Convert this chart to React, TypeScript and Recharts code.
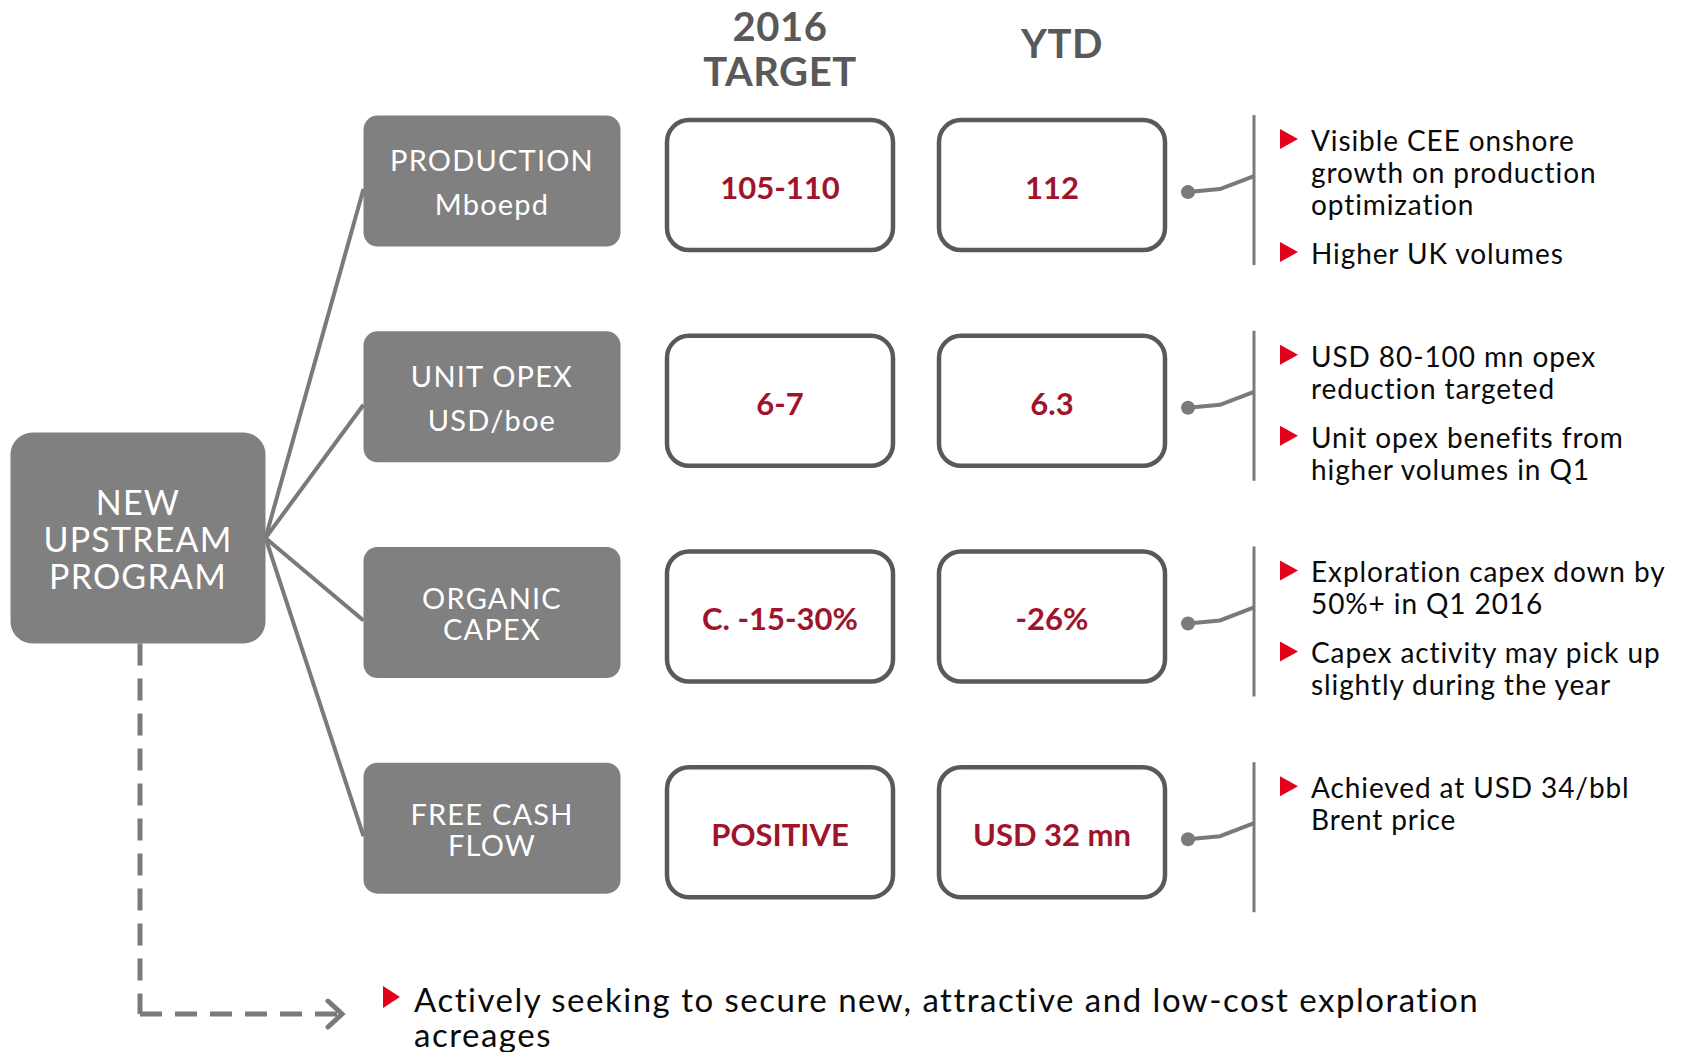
import React from 'react';
import { ScatterChart, Scatter, XAxis, YAxis, ReferenceLine } from 'recharts';

// diagram content
const programTitle = ['NEW', 'UPSTREAM', 'PROGRAM'];
const targetHeader = ['2016', 'TARGET'];
const ytdHeader = ['YTD'];
const categoryNames = ['PRODUCTION', 'UNIT OPEX', 'ORGANIC\nCAPEX', 'FREE CASH\nFLOW'];
const categoryUnits = ['Mboepd', 'USD/boe', '', ''];
const targets = ['105-110', '6-7', 'C. -15-30%', 'POSITIVE'];
const ytdValues = ['112', '6.3', '-26%', 'USD 32 mn'];
const comments = [
  [['Visible CEE onshore', 'growth on production', 'optimization'], ['Higher UK volumes']],
  [['USD 80-100 mn opex', 'reduction targeted'], ['Unit opex benefits from', 'higher volumes in Q1']],
  [['Exploration capex down by', '50%+ in Q1 2016'], ['Capex activity may pick up', 'slightly during the year']],
  [['Achieved at USD 34/bbl', 'Brent price']],
];
const bottomNote = ['Actively seeking to secure new, attractive and low-cost exploration', 'acreages'];

// layout
const W = 1683;
const H = 1052;
const Y_MIN = -0.858;
const Y_MAX = 4.019;
const ROW_PX = H / (Y_MAX - Y_MIN);

const PROGRAM_X = 138;
const PROGRAM_ROW = 1.636;
const PROGRAM_W = 255;
const PROGRAM_H = 211;
const CAT_X = 492;
const CAT_W = 257;
const CAT_H = 131;
const CAT_SHIFT = -4; // gray boxes sit slightly above the value boxes
const TARGET_X = 780;
const YTD_X = 1052;
const VAL_W = 226;
const VAL_H = 130;
const NOTE_X = 1254;
const HEADER_ROW = -0.659;
const BOTTOM_ROW = 3.843;
const DASH_X = 140;
const ARROW_X = 342;

const FONT = 'Lato, "Open Sans", sans-serif';
const BOX_GRAY = '#808080';
const LINE_GRAY = '#7a7a7a';
const DARK = '#595959';
const RED_VALUE = '#a0142b';
const RED_MARK = '#e3001b';
const TEXT = '#0a0a0a';

const programData = [{ x: PROGRAM_X, y: PROGRAM_ROW, lines: programTitle }];
const headerData = [
  { x: TARGET_X, y: HEADER_ROW, lines: targetHeader },
  { x: YTD_X + 10, y: HEADER_ROW, lines: ytdHeader },
];
const categoryData = categoryNames.map((name, i) => ({ x: CAT_X, y: i, name, unit: categoryUnits[i] }));
const targetData = targets.map((v, i) => ({ x: TARGET_X, y: i, value: v }));
const ytdData = ytdValues.map((v, i) => ({ x: YTD_X, y: i, value: v }));
const commentData = comments.map((c, i) => ({ x: NOTE_X, y: i, bullets: c }));
const bottomData = [{ x: ARROW_X, y: BOTTOM_ROW, lines: bottomNote }];

const ProgramShape = (props: any) => {
  const { cx, cy, payload } = props;
  return (
    <g>
      <rect x={cx - PROGRAM_W / 2} y={cy - PROGRAM_H / 2} width={PROGRAM_W} height={PROGRAM_H} rx={22} fill={BOX_GRAY} />
      <text textAnchor="middle" dominantBaseline="central" fill="#fff" fontSize={34} letterSpacing={1.2} fontFamily={FONT}>
        {payload.lines.map((t: string, k: number) => (
          <tspan key={k} x={cx} y={cy + (k - 1) * 37}>{t}</tspan>
        ))}
      </text>
    </g>
  );
};

const HeaderShape = (props: any) => {
  const { cx, cy, payload } = props;
  const n = payload.lines.length;
  return (
    <g>
      {payload.lines.map((t: string, k: number) => (
        <text key={k} x={cx} y={cy + (k - (n - 1) / 2) * 45 + (n > 1 ? 6 : 0)} textAnchor="middle"
          dominantBaseline="central" fill={DARK} fontSize={40} letterSpacing={0.5} fontWeight={700}
          fontFamily={FONT}>{t}</text>
      ))}
    </g>
  );
};

const CategoryShape = (props: any) => {
  const { cx, payload } = props;
  const cy = props.cy + CAT_SHIFT;
  const lines: string[] = payload.unit ? [payload.name, payload.unit] : payload.name.split('\n');
  const gap = payload.unit ? 44 : 31;
  return (
    <g>
      <rect x={cx - CAT_W / 2} y={cy - CAT_H / 2} width={CAT_W} height={CAT_H} rx={14} fill={BOX_GRAY} />
      <text textAnchor="middle" dominantBaseline="central" fill="#fff" fontSize={29} letterSpacing={1.2} fontFamily={FONT}>
        {lines.map((t, k) => (
          <tspan key={k} x={cx} y={cy + (k - 0.5) * gap}>{t}</tspan>
        ))}
      </text>
    </g>
  );
};

const ValueShape = (props: any) => {
  const { cx, cy, payload } = props;
  return (
    <g>
      <rect x={cx - VAL_W / 2} y={cy - VAL_H / 2} width={VAL_W} height={VAL_H} rx={22}
        fill="#fff" stroke={DARK} strokeWidth={4.5} />
      <text x={cx} y={cy + 2} textAnchor="middle" dominantBaseline="central" fill={RED_VALUE}
        fontSize={31} fontWeight={700} fontFamily={FONT}>{payload.value}</text>
    </g>
  );
};

const CommentShape = (props: any) => {
  const { cx, cy, payload } = props;
  const dotY = cy + 7;
  const items: { text: string; y: number; mark: boolean }[] = [];
  let y = cy - 45;
  payload.bullets.forEach((b: string[]) => {
    b.forEach((t, k) => {
      items.push({ text: t, y, mark: k === 0 });
      y += 32;
    });
    y += 17;
  });
  return (
    <g>
      <line x1={cx} y1={cy - 70} x2={cx} y2={cy + 80} stroke={LINE_GRAY} strokeWidth={3} />
      <polyline points={`${cx - 66},${dotY} ${cx - 34},${dotY - 3} ${cx},${dotY - 16}`} fill="none"
        stroke={LINE_GRAY} strokeWidth={4} />
      <circle cx={cx - 66} cy={dotY} r={7} fill={LINE_GRAY} />
      {items.map((it, k) => (
        <g key={k}>
          {it.mark && (
            <polygon points={`${cx + 26},${it.y - 11} ${cx + 44},${it.y - 1} ${cx + 26},${it.y + 9}`} fill={RED_MARK} />
          )}
          <text x={cx + 57} y={it.y} dominantBaseline="central" fill={TEXT} fontSize={28}
            letterSpacing={0.9} fontFamily={FONT}>{it.text}</text>
        </g>
      ))}
    </g>
  );
};

const BottomShape = (props: any) => {
  const { cx, cy, payload } = props;
  return (
    <g>
      <polyline points={`${cx - 14},${cy - 13} ${cx},${cy} ${cx - 14},${cy + 13}`} fill="none"
        stroke={LINE_GRAY} strokeWidth={5} strokeLinecap="round" />
      <polygon points={`${cx + 41},${cy - 28} ${cx + 58},${cy - 17} ${cx + 41},${cy - 6}`} fill={RED_MARK} />
      {payload.lines.map((t: string, k: number) => (
        <text key={k} x={cx + 72} y={cy - 15 + k * 35} dominantBaseline="central" fill={TEXT}
          fontSize={33} letterSpacing={1.5} fontFamily={FONT}>{t}</text>
      ))}
    </g>
  );
};

const App: React.FC = () => {
  const fanStart = { x: PROGRAM_X + PROGRAM_W / 2, y: PROGRAM_ROW };
  const dashTop = PROGRAM_ROW + PROGRAM_H / 2 / ROW_PX;
  const catShift = CAT_SHIFT / ROW_PX;
  return (
    <div style={{ position: 'absolute', left: 0, top: 0, width: W, height: H, background: '#fff' }}>
      <ScatterChart width={W} height={H} margin={{ top: 0, right: 0, bottom: 0, left: 0 }}>
        <XAxis type="number" dataKey="x" domain={[0, W]} allowDataOverflow hide />
        <YAxis type="number" dataKey="y" domain={[Y_MIN, Y_MAX]} allowDataOverflow reversed hide />
        {categoryNames.map((_, i) => (
          <ReferenceLine key={i} segment={[fanStart, { x: CAT_X - CAT_W / 2, y: i - catShift }]}
            stroke={LINE_GRAY} strokeWidth={4} ifOverflow="visible" />
        ))}
        <ReferenceLine segment={[{ x: DASH_X, y: dashTop }, { x: DASH_X, y: BOTTOM_ROW }]}
          stroke={LINE_GRAY} strokeWidth={5} strokeDasharray="22 13" ifOverflow="visible" />
        <ReferenceLine segment={[{ x: DASH_X, y: BOTTOM_ROW }, { x: ARROW_X - 4, y: BOTTOM_ROW }]}
          stroke={LINE_GRAY} strokeWidth={5} strokeDasharray="22 13" ifOverflow="visible" />
        <Scatter data={programData} shape={ProgramShape} isAnimationActive={false} />
        <Scatter data={headerData} shape={HeaderShape} isAnimationActive={false} />
        <Scatter data={categoryData} shape={CategoryShape} isAnimationActive={false} />
        <Scatter data={targetData} shape={ValueShape} isAnimationActive={false} />
        <Scatter data={ytdData} shape={ValueShape} isAnimationActive={false} />
        <Scatter data={commentData} shape={CommentShape} isAnimationActive={false} />
        <Scatter data={bottomData} shape={BottomShape} isAnimationActive={false} />
      </ScatterChart>
    </div>
  );
};

export default App;
